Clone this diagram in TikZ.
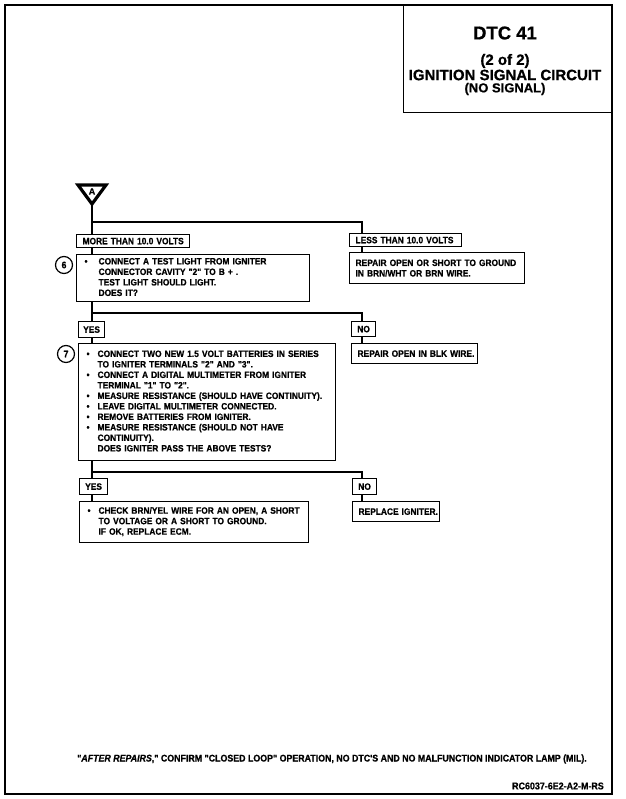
\documentclass[tikz,border=0pt]{standalone}
\usepackage{fontspec}
\newfontfamily\df[FakeStretch=0.91, BoldFeatures={FakeBold=0.7}, BoldItalicFeatures={FakeBold=0.7}]{Liberation Sans}
\newfontfamily\tf[BoldFeatures={FakeBold=0.7}]{Liberation Sans}
\usetikzlibrary{calc}
\begin{document}
\begin{tikzpicture}[x=1pt,y=-1pt,
  box/.style={draw, line width=1.2pt, anchor=north west, inner xsep=0pt, inner ysep=0pt,
    font=\df\bfseries\fontsize{9.2}{10.5}\selectfont, align=left},
  lab/.style={box, align=center},
  conn/.style={line width=2.8pt},
  num/.style={circle, draw, line width=1.2pt, minimum size=17pt, inner sep=0pt,
    font=\df\bfseries\fontsize{9.5}{10}\selectfont},
  ttl/.style={font=\tf\bfseries, inner sep=0pt}]
\useasboundingbox (0,0) rectangle (625,799);
% page frame
\draw[line width=1.8pt] (5,5) rectangle (612,794);
% title box
\node[draw, line width=1.2pt, anchor=north west, minimum width=209pt, minimum height=107pt] (tbox) at (403,5) {};
\node[ttl, font=\tf\bfseries\fontsize{18.5}{20}\selectfont] (t1) at (505,33) {DTC 41};
\node[ttl, font=\tf\bfseries\fontsize{15}{16}\selectfont] (t2) at (505,61) {(2 of 2)};
\node[ttl, font=\tf\bfseries\fontsize{15}{16}\selectfont] (t3) at (505,75) {IGNITION SIGNAL CIRCUIT};
\node[ttl, font=\tf\bfseries\fontsize{13}{14}\selectfont] (t4) at (505,89) {(NO SIGNAL)};
% entry triangle
\draw[line width=3.2pt, line join=miter] (78,185) -- (106,185) -- (92,204) -- cycle;
\node[font=\tf\bfseries\fontsize{9}{9}\selectfont, inner sep=0pt] (tri) at (92,191.5) {A};
\coordinate (apex) at (92,203);
% boxes
\node[box, minimum width=113pt, minimum height=13pt, text width=101pt] (more) at (76,234) {\mbox{MORE THAN 10.0 VOLTS}};
\node[box, minimum width=112pt, minimum height=13pt, text width=100pt] (less) at (349,233) {\mbox{LESS THAN 10.0 VOLTS}};
\node[box, minimum width=233pt, minimum height=47pt, text width=217pt] (b6) at (76,254)
  {\begin{tabular}{@{}p{14pt}@{}l@{}}
  \textbullet & CONNECT A TEST LIGHT FROM IGNITER\\
  & CONNECTOR CAVITY "2" TO B + .\\
  & TEST LIGHT SHOULD LIGHT.\\
  & DOES IT?
  \end{tabular}};
\node[num] (n6) at (64,265) {6};
\node[box, minimum width=175pt, minimum height=31pt, text width=163pt] (rep1) at (349,252)
  {\mbox{REPAIR OPEN OR SHORT TO GROUND}\\\mbox{IN BRN/WHT OR BRN WIRE.}};
\node[lab, minimum width=26pt, minimum height=16pt] (yes1) at (78,321) {YES};
\node[lab, minimum width=24pt, minimum height=15pt] (no1) at (351,321) {NO};
\node[box, minimum width=257pt, minimum height=117pt, text width=241pt] (b7) at (78,343)
  {\begin{tabular}{@{}p{11pt}@{}l@{}}
  \textbullet & CONNECT TWO NEW 1.5 VOLT BATTERIES IN SERIES\\
  & TO IGNITER TERMINALS "2" AND "3".\\
  \textbullet & CONNECT A DIGITAL MULTIMETER FROM IGNITER\\
  & TERMINAL "1" TO "2".\\
  \textbullet & MEASURE RESISTANCE (SHOULD HAVE CONTINUITY).\\
  \textbullet & LEAVE DIGITAL MULTIMETER CONNECTED.\\
  \textbullet & REMOVE BATTERIES FROM IGNITER.\\
  \textbullet & MEASURE RESISTANCE (SHOULD NOT HAVE\\
  & CONTINUITY).\\
  & DOES IGNITER PASS THE ABOVE TESTS?
  \end{tabular}};
\node[num] (n7) at (66,354) {7};
\node[box, minimum width=126pt, minimum height=20pt, text width=114pt] (blk) at (351,343) {\mbox{REPAIR OPEN IN BLK WIRE.}};
\node[lab, minimum width=28pt, minimum height=16pt] (yes2) at (79,478) {YES};
\node[lab, minimum width=24pt, minimum height=16pt] (no2) at (352,478) {NO};
\node[box, minimum width=229pt, minimum height=41pt, text width=213pt] (fin) at (79,501)
  {\begin{tabular}{@{}p{11pt}@{}l@{}}
  \textbullet & CHECK BRN/YEL WIRE FOR AN OPEN, A SHORT\\
  & TO VOLTAGE OR A SHORT TO GROUND.\\
  & IF OK, REPLACE ECM.
  \end{tabular}};
\node[box, minimum width=87pt, minimum height=20pt, text width=75pt] (repl) at (352,501) {\mbox{REPLACE IGNITER.}};
% connectors
\coordinate (j1) at (92,222);
\coordinate (j2) at (92,313);
\coordinate (j3) at (92,472);
\draw[conn] (apex) -- (apex |- more.north);
\draw[conn] (j1) -| ($(less.north west)+(13,0)$);
\draw[conn] (apex |- more.south) -- (apex |- b6.north);
\draw[conn] ($(less.south west)+(13,0)$) -- ($(rep1.north west)+(13,0)$);
\draw[conn] (apex |- b6.south) -- (apex |- yes1.north);
\draw[conn] (j2) -| ($(no1.north west)+(11,0)$);
\draw[conn] (apex |- yes1.south) -- (apex |- b7.north);
\draw[conn] ($(no1.south west)+(11,0)$) -- ($(blk.north west)+(11,0)$);
\draw[conn] (apex |- b7.south) -- (apex |- yes2.north);
\draw[conn] (j3) -| ($(no2.north west)+(10,0)$);
\draw[conn] (apex |- yes2.south) -- (apex |- fin.north);
\draw[conn] ($(no2.south west)+(10,0)$) -- ($(repl.north west)+(10,0)$);
% footer
\node[anchor=west, inner sep=0pt, font=\df\bfseries\fontsize{9.7}{11}\selectfont] (foot) at (77,759)
  {"\textit{AFTER REPAIRS},"\ CONFIRM "CLOSED LOOP" OPERATION, NO DTC'S AND NO MALFUNCTION INDICATOR LAMP (MIL).};
\node[anchor=east, inner sep=0pt, font=\df\bfseries\fontsize{9.8}{11}\selectfont] (code) at (604,786) {RC6037-6E2-A2-M-RS};
\end{tikzpicture}
\end{document}
